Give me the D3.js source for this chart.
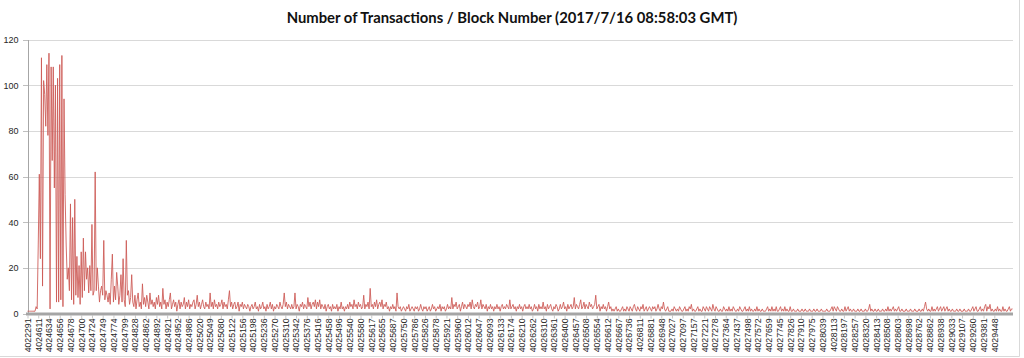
<!DOCTYPE html>
<html><head><meta charset="utf-8">
<script src="https://cdn.jsdelivr.net/npm/d3@7/dist/d3.min.js"></script>
<style>body{margin:0;background:#fff}svg{display:block}</style>
</head><body><svg id="c" width="1024" height="358"></svg>
<script>
const chartTitle = "Number of Transactions / Block Number (2017/7/16 08:58:03 GMT)";
const blockLabels = [
"4022291","4024611","4024634","4024656","4024678","4024700","4024724","4024749","4024774","4024799","4024828","4024862","4024892","4024921","4024952","4024986","4025020","4025049","4025080","4025122","4025156","4025198",
"4025236","4025270","4025310","4025342","4025376","4025416","4025458","4025496","4025540","4025580","4025617","4025655","4025687","4025750","4025786","4025826","4025878","4025921","4025960","4026012","4026047","4026093","4026133",
"4026174","4026210","4026262","4026310","4026361","4026400","4026457","4026508","4026554","4026612","4026667","4026736","4026811","4026881","4026948","4027027","4027097","4027157","4027221","4027278","4027364","4027437","4027498",
"4027572","4027659","4027745","4027826","4027910","4027975","4028039","4028113","4028197","4028257","4028320","4028413","4028508","4028603","4028698","4028762","4028862","4028938","4029033","4029107","4029260","4029381","4029448"];
const pointsPerLabel = 10;
const yTicks = [0, 20, 40, 60, 80, 100, 120];
const txCounts = [
1,1,1,1,1,1,1,1,3,2,
30,61,24,112,12,102,96,82,109,78,
114,2,108,67,108,55,100,5,103,5,
109,6,113,3,94,52,
30,15,20,10,48,6,42,4,50,8,
25,7,21,4,27,7,33,10,27,15,
20,9,21,10,39,8,10,62,10,20,
12,5,10,12,8,32,6,10,8,5,9,4,
15,26,5,12,6,18,12,4,8,17,5,24,6,3,32,8,10,4,7,17,5,
3,8,2,6,9,3,5,2,13,4,7,3,8,5,2,9,4,6,3,5,2,7,4,8,3,5,2,11,4,6,
2,5,3,6,9,2,4,6,3,5,1,4,6,2,5,3,4,7,2,5,3,6,2,4,3,5,6,2,4,8,3,5,2,4,6,3,2,5,3,4,2,9,
3,5,2,6,3,4,2,5,3,4,6,2,5,3,4,2,6,10,3,5,2,4,5,2,3,5,1,4,3,5,2,4,3,2,4,3,1,3,4,2,
3,5,2,3,1,4,2,3,5,2,3,1,4,2,3,5,2,4,1,3,2,4,3,2,5,3,2,4,9,3,5,2,4,3,2,
4,2,3,9,2,4,3,1,4,3,5,2,4,3,2,7,3,5,2,4,5,3,6,2,5,3,6,2,4,3,
2,4,1,3,4,2,3,1,4,2,3,2,4,1,3,2,5,2,3,1,3,2,4,2,5,3,4,2,6,3,
4,2,5,3,4,2,3,8,2,4,3,5,2,11,3,4,2,5,3,6,2,4,5,3,6,2,4,3,5,2,
3,1,3,2,4,2,3,1,9,3,2,3,1,2,3,2,1,3,2,4,1,2,3,2,1,3,2,3,1,2,
4,2,1,3,2,3,1,2,3,1,2,4,2,3,1,2,3,2,4,1,3,2,3,1,2,4,2,3,2,7,
2,4,3,5,2,3,4,1,3,5,2,4,3,2,4,3,5,2,6,3,2,4,3,5,2,3,6,2,4,3,
2,4,1,3,2,4,2,3,1,3,2,4,2,3,1,3,4,2,3,2,4,3,2,6,2,3,4,2,3,1,
3,2,4,2,3,1,3,4,2,3,2,4,2,
3,1,2,4,2,3,1,4,2,3,2,5,2,3,1,4,2,3,4,2,1,3,2,4,3,1,2,4,2,3,
5,2,3,1,4,2,3,4,2,3,7,2,4,3,2,4,6,2,3,5,2,4,3,2,5,3,4,2,3,4,
8,2,3,4,1,3,2,4,2,3,1,3,5,2,3,1,2,1,2,3,1,2,1,1,2,3,1,2,1,3,
2,1,3,2,1,3,4,2,1,3,2,1,3,2,4,1,2,3,1,2,3,2,1,3,2,3,1,2,4,2,
1,3,2,5,2,1,2,3,1,1,1,2,1,3,2,1,2,1,3,2,1,1,2,3,1,2,1,3,2,4,
1,2,1,1,2,3,1,2,1,1,3,2,1,3,2,1,3,2,1,4,2,1,3,2,1,1,2,1,1,3,
2,1,2,1,3,1,2,1,3,2,1,1,2,1,3,2,1,1,2,3,1,2,1,3,1,2,1,1,2,1,
3,1,2,1,1,2,1,1,1,2,3,1,2,
1,3,1,2,1,3,1,1,2,3,1,2,1,3,1,2,1,1,3,1,1,2,1,1,1,2,1,1,1,2,
1,1,2,1,1,1,2,1,1,1,2,1,1,2,1,1,1,2,1,1,1,1,2,1,1,1,2,3,1,3,
2,1,3,2,1,1,2,1,1,3,1,2,3,1,2,1,1,2,1,1,1,2,1,1,2,1,1,1,2,1,
1,2,4,1,2,1,1,2,1,1,2,1,1,1,2,1,1,2,1,3,1,2,1,2,3,1,2,1,2,3,
1,1,2,1,1,1,2,1,1,1,2,1,1,1,2,1,1,1,2,1,1,2,1,3,5,2,1,2,1,1,
3,1,2,1,2,3,1,2,3,1,2,3,1,2,3,1,2,1,1,2,1,1,1,2,1,1,2,1,1,1,
2,1,1,1,2,1,1,2,3,1,2,3,1,1,2,3,1,2,1,3,4,1,3,2,4,1,2,1,1,2,
1,3,1,2,1,1,3,1,2,1,1,2,3,1,2,2];

const svg = d3.select("#c");
const plotLeft = 27.5, plotRight = 1013, yZero = 313.5, yTop = 39.5;
const x = d3.scaleLinear()
  .domain([0, (blockLabels.length - 1) * pointsPerLabel])
  .range([plotLeft, 994.3]);
const y = d3.scaleLinear().domain([0, 120]).range([yZero, yTop]);

// frame
svg.append("line").attr("x1", 1019.5).attr("x2", 1019.5).attr("y1", 0).attr("y2", 356.5).attr("stroke", "#d9d9d9");
svg.append("line").attr("x1", 0).attr("x2", 1019.5).attr("y1", 356.5).attr("y2", 356.5).attr("stroke", "#d9d9d9");

// title
const t = svg.append("text").attr("x", 512).attr("y", 23).attr("text-anchor", "middle")
  .attr("font-family", "Lato, 'Open Sans', sans-serif").attr("font-weight", "bold")
  .attr("font-size", 16).attr("fill", "#111").text(chartTitle);
const tw = t.node().getComputedTextLength();
t.attr("font-size", Math.min(17, 16 * 451 / tw));

// grid
const grid = svg.append("g").attr("transform", `translate(${plotLeft},0)`)
  .call(d3.axisLeft(y).tickValues(yTicks.filter(v => v > 0)).tickSize(-(plotRight - plotLeft)).tickFormat(""));
grid.select(".domain").remove();
grid.selectAll("line").attr("stroke", "#d9d9d9").attr("shape-rendering", "crispEdges");

// y axis
const ya = svg.append("g").attr("transform", `translate(${plotLeft},0)`)
  .call(d3.axisLeft(y).tickValues(yTicks).tickSize(5).tickPadding(4));
ya.select(".domain").attr("stroke", "#a6a6a6").attr("d", `M0.5,${yTop}V${yZero}`).attr("shape-rendering", "crispEdges");
ya.selectAll("line").attr("stroke", "#bfbfbf").attr("shape-rendering", "crispEdges");
ya.selectAll("text").attr("font-family", "'Liberation Sans', Arial, sans-serif").attr("font-size", 9).attr("fill", "#262626");

// x axis
const xa = svg.append("g").attr("transform", `translate(0,${yZero + 2})`)
  .call(d3.axisBottom(x)
    .tickValues(blockLabels.map((d, i) => i * pointsPerLabel))
    .tickFormat((d, i) => blockLabels[i]).tickSize(3).tickPadding(2));
xa.select(".domain").remove();
xa.selectAll("line").attr("stroke", "#c8c8c8");
xa.selectAll("text")
  .attr("font-family", "'Liberation Sans', Arial, sans-serif").attr("font-size", 8.7).attr("fill", "#262626")
  .attr("text-anchor", "end").attr("transform", "rotate(-90)")
  .attr("x", -3).attr("y", 0).attr("dy", "0.33em");

// series line
const line = d3.line().x((d, i) => x(i)).y(d => y(d));
svg.append("path").datum(txCounts).attr("d", line)
  .attr("fill", "none").attr("stroke", "#cd5b56").attr("stroke-opacity", 0.88).attr("stroke-width", 1).attr("stroke-linejoin", "round");

// thick baseline
svg.append("line").attr("x1", 26).attr("x2", plotRight).attr("y1", yZero + 0.5).attr("y2", yZero + 0.5)
  .attr("stroke", "#a5a5a5").attr("stroke-width", 3);
</script></body></html>
